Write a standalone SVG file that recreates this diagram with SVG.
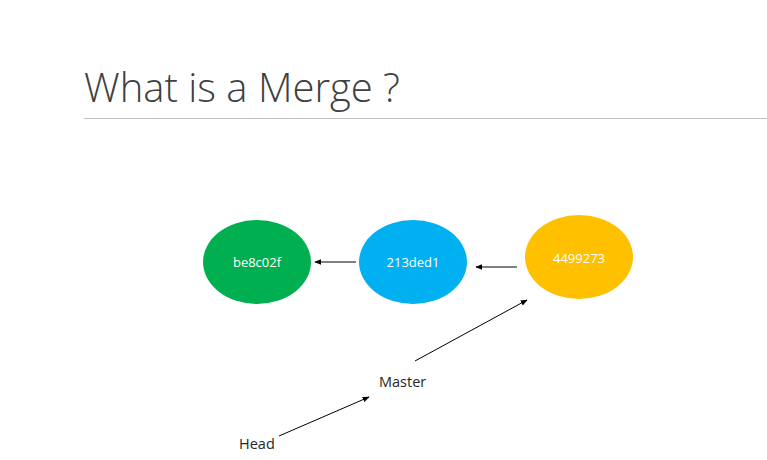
<svg xmlns="http://www.w3.org/2000/svg" width="767" height="460" viewBox="0 0 767 460">
<style>
.title{font-family:"Open Sans","Liberation Sans",sans-serif;font-size:40px;fill:#404040;font-weight:300}
.lbl{font-family:"Open Sans","Liberation Sans",sans-serif;font-size:14.5px;fill:#262626}
.nt{font-family:"Open Sans","Liberation Sans",sans-serif;font-size:13px;fill:#fff;text-anchor:middle}
.c{stroke:#000;stroke-width:1;fill:none;marker-end:url(#ah)}
</style>
<defs>
<marker id="ah" viewBox="0 0 10 10" refX="9" refY="5" markerWidth="7" markerHeight="7" markerUnits="userSpaceOnUse" orient="auto">
<path d="M0,1 L10,5 L0,9 z" fill="#000"/>
</marker>
</defs>
<rect width="767" height="460" fill="#fff"/>
<text class="title" x="84" y="102">What is a Merge ?</text>
<line x1="84" y1="118.5" x2="767" y2="118.5" stroke="#bfbfbf" stroke-width="1"/>
<g id="node-be8c02f">
<ellipse cx="257" cy="262" rx="54" ry="42" fill="#00b050"/>
<text class="nt" x="257" y="267">be8c02f</text>
</g>
<g id="node-213ded1">
<ellipse cx="413" cy="262" rx="54" ry="42" fill="#00b0f0"/>
<text class="nt" x="413" y="267">213ded1</text>
</g>
<g id="node-4499273">
<ellipse cx="579" cy="257" rx="54" ry="42" fill="#ffc000"/>
<text class="nt" x="579" y="263">4499273</text>
</g>
<g id="node-master">
<text class="lbl" x="379" y="387">Master</text>
</g>
<g id="node-head">
<text class="lbl" x="239" y="449">Head</text>
</g>
<g id="connectors">
<line class="c" x1="356" y1="262" x2="315" y2="262"/>
<line class="c" x1="517" y1="267" x2="476" y2="267"/>
<line class="c" x1="415" y1="361" x2="527" y2="300"/>
<line class="c" x1="279" y1="436" x2="369" y2="397"/>
</g>
</svg>
